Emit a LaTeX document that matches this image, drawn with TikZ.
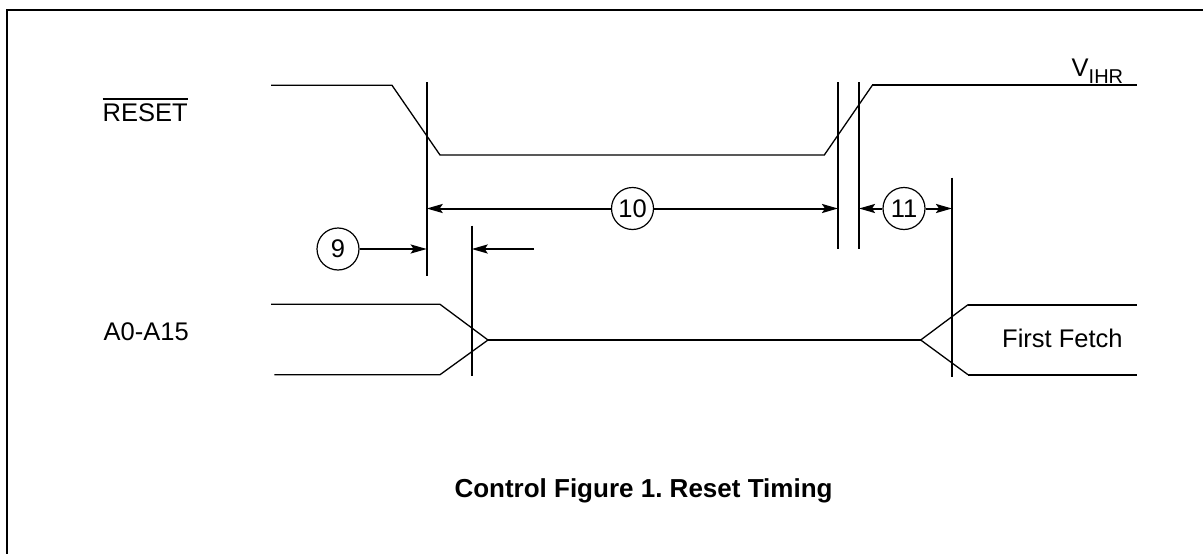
\documentclass[tikz,border=0pt]{standalone}
\usepackage{fontspec}
\setmainfont{Liberation Sans}
\usetikzlibrary{arrows.meta}
\frenchspacing
\begin{document}
\begin{tikzpicture}[x=1pt,y=-1pt,
  lbl/.style={inner sep=0pt, anchor=base west, font=\fontsize{25.5}{30}\selectfont},
  num/.style={circle, draw, line width=1.2pt, minimum size=42pt, inner sep=0pt, font=\fontsize{25.5}{30}\selectfont},
  sig/.style={line width=1.3pt, line join=miter},
  sigthick/.style={line width=2pt},
  marker/.style={line width=2pt},
  dim/.style={line width=2pt, -{Stealth[length=16pt, width=9pt, inset=3pt]}},
  frame/.style={line width=2.3pt}]
\useasboundingbox (0,0) rectangle (1203,554);
% frame
\draw[frame] (7.3,556) -- (7.3,10.3) -- (1205,10.3);

% labels
\node[lbl] (reset) at (102.5,121.7) {RESET};
\draw[line width=1.6pt] ([yshift=4.6pt]reset.north west) -- ([yshift=4.6pt]reset.north east);
\node[lbl] (addr) at (103.5,340.7) {A0-A15};
\node[lbl] (fetch) at (1002,347.7) {First Fetch};
\node[lbl] (vihr) at (1071.5,76.7) {V\raisebox{-6.6pt}{\fontsize{20}{24}\selectfont IHR}};
\node[inner sep=0pt, anchor=base, font=\fontsize{26}{30}\selectfont\bfseries] (cap) at (643.5,497) {Control Figure 1. Reset Timing};

% RESET waveform
\draw[sig] (271,85.3) -- (392,85.3) -- (440,155) -- (824.3,155) -- (872.3,85.3);
\draw[sigthick] (872.3,85.3) -- (1136.7,85.3);

% A0-A15 waveform
\draw[sig] (271,304.3) -- (440,304.3) -- (488,340);
\draw[sig] (274.3,374.7) -- (440,374.7) -- (488,340);
\draw[line width=1.6pt] (488,340) -- (920.7,340);
\draw[sig] (920.7,340) -- (968,304.7);
\draw[sig] (920.7,340) -- (968,374.7);
\draw[sigthick] (968,304.7) -- (1136.7,304.7);
\draw[sigthick] (968,374.7) -- (1136.7,374.7);

% marker lines
\draw[marker] (426.7,82.3) -- (426.7,275.7);
\draw[marker] (471.7,225.7) -- (471.7,375.7);
\draw[marker] (838,82.3) -- (838,249.3);
\draw[marker] (859,82.3) -- (859,249.3);
\draw[marker] (952,177.7) -- (952,377);

% dimension circles
\node[num] (n9) at (338,249) {9};
\node[num] (n10) at (632.5,208.5) {10};
\node[num] (n11) at (904,208.5) {11};

% arrow end points
\coordinate (a9) at (426.7,249);
\coordinate (b9s) at (534,249);
\coordinate (b9) at (471.7,249);
\coordinate (a10l) at (426.7,208.5);
\coordinate (a10r) at (838,208.5);
\coordinate (a11l) at (859,208.5);
\coordinate (a11r) at (952,208.5);

\draw[dim] (n9) -- (a9);
\draw[dim] (b9s) -- (b9);
\draw[dim] (n10) -- (a10l);
\draw[dim] (n10) -- (a10r);
\draw[dim] (n11) -- (a11l);
\draw[dim] (n11) -- (a11r);
\end{tikzpicture}
\end{document}
